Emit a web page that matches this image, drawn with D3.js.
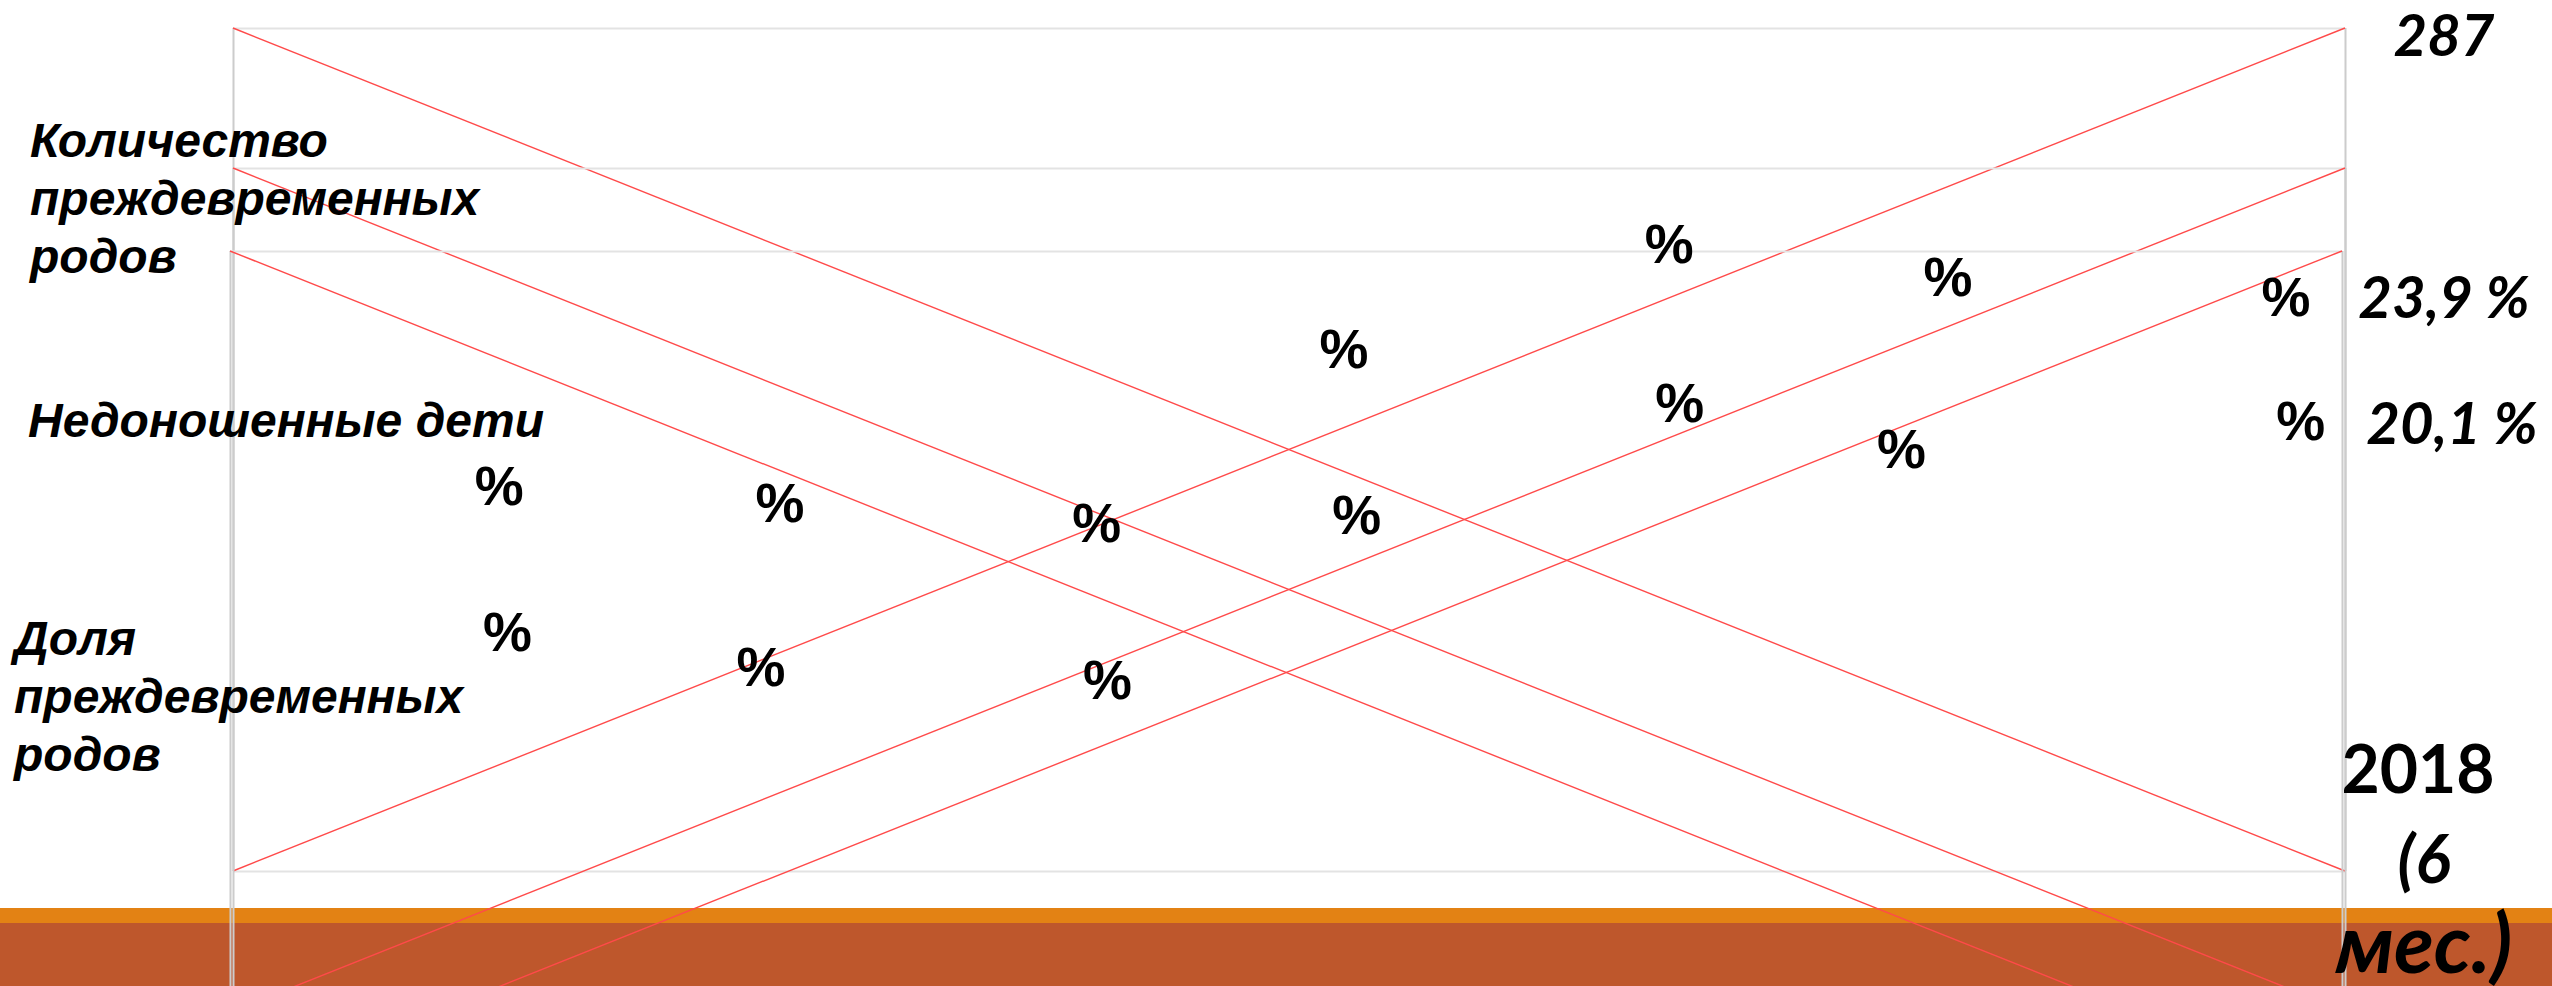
<!DOCTYPE html>
<html>
<head>
<meta charset="utf-8">
<script src="https://cdn.jsdelivr.net/npm/d3@7"></script>
<style>
	body { margin: 0; background: #fff; }
	svg { display: block; }
	.grid line { stroke: #e3e3e3; stroke-width: 2; }
	.border line { stroke: #cccccc; stroke-width: 2; }
	.grid path, .border path { display: none; }
	.series { fill: none; stroke: #ff4a4a; stroke-width: 1.4; }
	.name { font-family: "Liberation Sans", Arial, sans-serif; font-weight: bold; font-style: italic; font-size: 48px; }
	.pct { font-family: "Liberation Sans", Arial, sans-serif; font-weight: bold; font-size: 55px; }
	.val { font-family: Lato, "Open Sans", sans-serif; font-weight: bold; font-style: italic; font-size: 58px; }
	.cat { font-family: Lato, "Open Sans", sans-serif; font-weight: bold; font-size: 66px; }
</style>
</head>
<body>
<svg width="2552" height="986"></svg>
<script>
// data
var categories = ["start", "2018 (6 мес.)"];
var countFalling = [1, 0],   countRising = [0, 1];
var babiesFalling = [1, 0],  babiesRising = [0, 1];
var shareFalling = [1, 0],   shareRising = [0, 1];

var seriesNames = [
	["Количество", "преждевременных", "родов"],
	["Недоношенные дети"],
	["Доля", "преждевременных", "родов"]
];
var endValues = ["287", "23,9 %", "20,1 %"];
var catLabel = ["2018", "(6", "мес.)"];

// "%" data labels (value numbers are missing in the source), in panel-1 units
var pctX = [0.126, 0.259, 0.409, 0.532, 0.526, 0.680, 0.685, 0.812, 0.790, 0.972, 0.979, 0.130, 0.250, 0.414];
var pctY = [0.458, 0.437, 0.414, 0.423, 0.620, 0.745, 0.556, 0.705, 0.502, 0.682, 0.535, 0.284, 0.243, 0.227];

var svg = d3.select("svg"),
	width = +svg.attr("width"),
	height = +svg.attr("height"),
	plotH = 843;

// bottom band
svg.append("rect").attr("x", 0).attr("y", 908).attr("width", width).attr("height", 15).attr("fill", "#e38214");
svg.append("rect").attr("x", 0).attr("y", 923).attr("width", width).attr("height", height - 923).attr("fill", "#be572c");

var panels = [
	{left: 233, right: 2345, top: 28,  down: countFalling,  up: countRising},
	{left: 233, right: 2345, top: 168, down: babiesFalling, up: babiesRising},
	{left: 230, right: 2342, top: 251, down: shareFalling,  up: shareRising}
];

panels.forEach(function(p) {
	var x = d3.scalePoint().domain(categories).range([p.left, p.right]);
	var y = d3.scaleLinear().domain([0, 1]).range([p.top + plotH, p.top]);
	var g = svg.append("g");

	g.append("g")
		.attr("class", "grid")
		.attr("transform", "translate(" + p.left + ",0)")
		.call(d3.axisLeft(y).tickValues([0, 1]).tickSize(-(p.right - p.left)).tickFormat(""));

	g.append("g")
		.attr("class", "border")
		.attr("transform", "translate(0," + (p.top + plotH) + ")")
		.call(d3.axisBottom(x).tickSize(-plotH).tickFormat(""));

	var line = d3.line()
		.x(function(d, i) { return x(categories[i]); })
		.y(function(d) { return y(d); });

	g.append("path").attr("class", "series").attr("d", line(p.down));
	g.append("path").attr("class", "series").attr("d", line(p.up));
});

// % labels
var lx = d3.scaleLinear().domain([0, 1]).range([panels[0].left, panels[0].right]);
var ly = d3.scaleLinear().domain([0, 1]).range([panels[0].top + plotH, panels[0].top]);
svg.selectAll(".pct")
	.data(pctX)
	.enter()
	.append("text")
	.attr("class", "pct")
	.attr("text-anchor", "middle")
	.attr("x", function(d) { return lx(d); })
	.attr("y", function(d, i) { return ly(pctY[i]); })
	.attr("dy", "0.36em")
	.text("%");

// series names on the left
var nameX = [30, 28, 14], nameY = [157, 437, 655];
seriesNames.forEach(function(lines, k) {
	var t = svg.append("text").attr("class", "name").attr("x", nameX[k]).attr("y", nameY[k]);
	lines.forEach(function(s, j) {
		t.append("tspan").attr("x", nameX[k]).attr("dy", j ? 58 : 0).text(s);
	});
});

// values at the right end
var valY = [56, 318, 444], valX = [2444, 2444, 2452];
svg.selectAll(".val")
	.data(endValues)
	.enter()
	.append("text")
	.attr("class", "val")
	.attr("text-anchor", "middle")
	.attr("x", function(d, i) { return valX[i]; })
	.attr("y", function(d, i) { return valY[i]; })
	.text(function(d) { return d; });

// last category label, wrapped
var catY = [793, 883, 973], catSize = [66, 66, 82];
svg.selectAll(".cat")
	.data(catLabel)
	.enter()
	.append("text")
	.attr("class", "cat")
	.attr("text-anchor", "middle")
	.attr("x", function(d, i) { return i ? 2424 : 2418; })
	.attr("y", function(d, i) { return catY[i]; })
	.style("font-size", function(d, i) { return catSize[i] + "px"; })
	.style("font-style", function(d, i) { return i ? "italic" : "normal"; })
	.text(function(d) { return d; });
</script>
</body>
</html>
